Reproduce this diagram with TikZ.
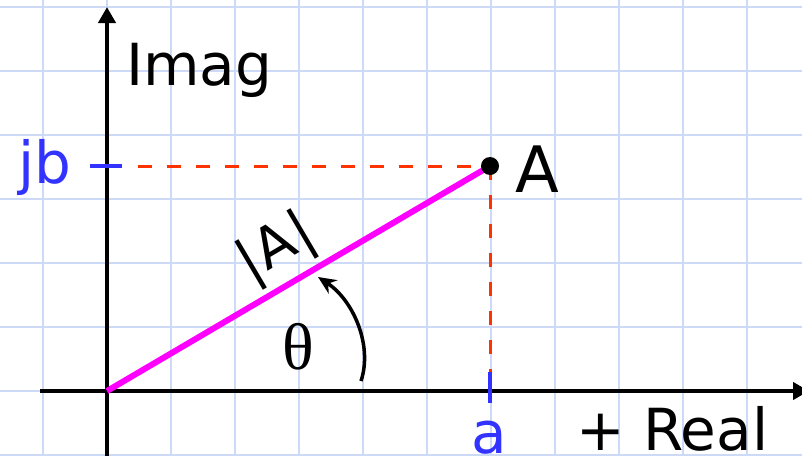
\documentclass[tikz,border=0pt]{standalone}
\usepackage{fontspec}
\setmainfont{DejaVu Sans}
\newfontfamily\thetafont{Liberation Serif}
\usetikzlibrary{arrows.meta}
\definecolor{gridc}{RGB}{204,217,247}
\definecolor{redd}{RGB}{255,51,0}
\definecolor{bluet}{RGB}{51,51,255}
\definecolor{magv}{RGB}{255,0,255}
\tikzset{
  gridline/.style={draw=gridc, line width=1.6pt},
  axisline/.style={draw=black, line width=4.5pt, -{Triangle[length=16pt,width=17pt]}},
  reddash/.style={draw=redd, line width=3pt, dash pattern=on 14pt off 15pt},
  vecline/.style={draw=magv, line width=6pt},
  tickline/.style={draw=bluet, line width=4.5pt},
  dotnode/.style={circle, fill=black, inner sep=0pt, minimum size=18pt},
  lab/.style={inner sep=0pt, font=\fontsize{58}{60}\selectfont},
  arcline/.style={draw=black, line width=3.5pt, -{Stealth[length=18pt,width=16pt]}}
}
\begin{document}
\begin{tikzpicture}[x=1pt,y=-1pt]
\useasboundingbox (0,0) rectangle (802,455);
\fill[white] (0,0) rectangle (802,455);
% grid
\foreach \gx in {43,107,...,747} \draw[gridline] (\gx,0) -- (\gx,455);
\foreach \gy in {7,71,...,455} \draw[gridline] (0,\gy) -- (802,\gy);
% points
\coordinate (O) at (107,391);
\coordinate (xs) at (40,391);
\coordinate (xe) at (809,391);
\coordinate (ys) at (107,460);
\coordinate (ye) at (107,7);
\coordinate (Pc) at (490,166);
\coordinate (hs) at (138,166);
\coordinate (ve) at (490,373);
\coordinate (jt1) at (90,166);
\coordinate (jt2) at (122,166);
\coordinate (at1) at (490,372);
\coordinate (at2) at (490,403);
\coordinate (arcS) at (361,381);
\coordinate (arcE) at (318,277);
% dashed projections
\draw[reddash] (hs) -- (Pc);
\draw[reddash] (Pc) -- (ve);
% axes
\draw[axisline] (xs) -- (xe);
\draw[axisline] (ys) -- (ye);
% ticks
\draw[tickline] (jt1) -- (jt2);
\draw[tickline] (at1) -- (at2);
% vector
\draw[vecline] (O) -- (Pc);
\node[dotnode] (P) at (Pc) {};
% angle arc
\draw[arcline] (arcS) .. controls (373,345) and (353,300) .. (arcE);
% labels
\node[lab, anchor=base west] (imag) at (126,85) {Imag};
\node[lab, anchor=base, text=bluet] (jb) at (44.5,183) {jb};
\node[lab, anchor=base west, font=\fontsize{64}{66}\selectfont] (Alab) at (515,192) {A};
\node[lab, anchor=base, text=bluet] (alab) at (489,453) {a};
\node[lab, anchor=base west] (real) at (576,450) {+ Real};
\node[lab, rotate=30.5, font=\fontsize{56}{58}\selectfont] (absA) at (277,249) {|\kern2pt A\kern2pt|};
\node[inner sep=0pt, font=\thetafont\fontsize{66}{70}\selectfont] (theta) at (298,347) {θ};
\end{tikzpicture}
\end{document}
